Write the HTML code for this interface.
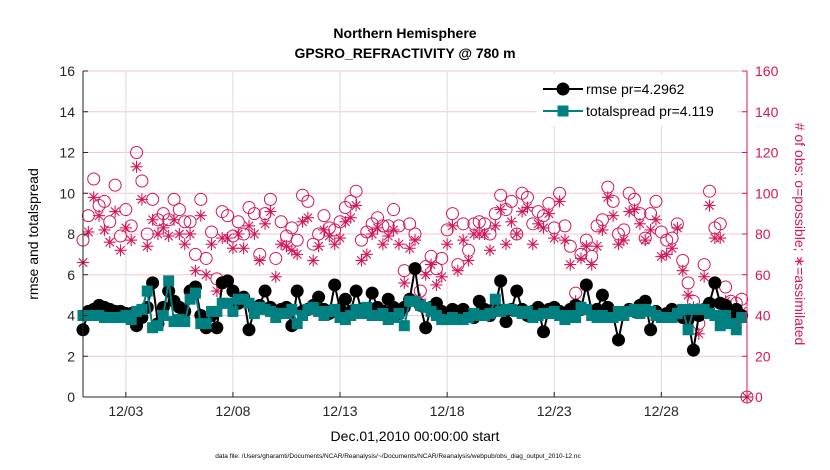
<!DOCTYPE html>
<html><head><meta charset="utf-8"><style>
body{margin:0;background:#fff;}
svg{display:block;font-family:"Liberation Sans",Arial,sans-serif;}
</style></head><body>
<svg id="chart" width="830" height="470" viewBox="0 0 830 470" xmlns="http://www.w3.org/2000/svg">
<g id="grid"></g>
<g id="series"></g>
<g id="axes"></g>
<text x="405" y="38" text-anchor="middle" font-size="14" font-weight="bold">Northern Hemisphere</text>
<text x="405" y="58" text-anchor="middle" font-size="14" font-weight="bold">GPSRO_REFRACTIVITY @ 780 m</text>
<text x="415" y="441" text-anchor="middle" font-size="14">Dec.01,2010 00:00:00 start</text>
<text transform="translate(38,234) rotate(-90)" text-anchor="middle" font-size="14">rmse and totalspread</text>
<text transform="translate(795,234) rotate(90)" text-anchor="middle" font-size="14" fill="#d6145a"># of obs: o=possible; ∗=assimilated</text>
<text x="398" y="458" text-anchor="middle" font-size="6.5">data file: /Users/gharamti/Documents/NCAR/Reanalysis/~/Documents/NCAR/Reanalysis/webpub/obs_diag_output_2010-12.nc</text>
<g id="legend"></g>
</svg>
<script>
const rmse = [3.3,4.2,4.3,4.5,4.4,4.3,4.2,4.2,4.1,4.1,
3.5,3.9,4.4,5.6,3.6,4.4,5.2,4.7,4.4,4.2,
5.2,5.4,4.0,3.4,4.0,3.4,5.6,5.7,5.2,4.6,
4.9,3.3,4.3,4.5,5.2,4.4,4.2,4.3,4.4,3.5,
5.2,4.2,4.3,4.5,4.9,4.3,4.1,5.5,4.3,4.8,
4.2,5.2,4.3,4.2,5.1,4.4,4.2,4.8,4.4,4.1,
4.4,4.8,6.3,4.5,3.4,4.4,4.6,4.2,4.1,4.3,
4.2,4.3,4.0,3.9,4.7,4.3,4.0,4.4,5.7,3.7,
4.3,5.2,4.3,4.0,4.2,4.4,3.2,4.3,4.4,4.2,
4.1,4.3,4.5,4.3,5.5,4.2,4.3,5.0,4.4,4.0,
2.8,4.1,4.3,4.2,4.5,4.7,3.3,4.2,4.0,4.1,
4.3,4.1,3.9,3.8,2.3,4.0,4.3,4.6,5.6,4.6,
4.5,3.9,4.3,4.0];
const spread = [4.0,4.0,4.0,4.0,3.9,3.9,3.9,3.9,4.0,3.8,
4.2,4.3,5.2,3.4,3.5,4.0,5.7,3.7,3.8,3.7,
4.8,5.1,3.6,3.6,4.2,4.2,4.6,4.6,4.2,4.8,
4.8,4.6,4.1,4.4,4.3,4.2,3.9,4.1,4.1,4.3,
3.6,4.0,4.3,4.4,4.2,4.0,4.2,4.3,3.9,3.8,
4.0,4.3,4.1,4.4,4.0,4.0,4.1,3.8,3.9,4.1,
3.5,4.7,4.7,4.5,4.4,4.2,4.0,3.8,3.8,3.9,
3.8,3.8,3.9,4.1,4.0,4.0,4.1,4.8,4.2,4.3,
4.3,4.2,4.1,4.2,3.9,4.0,4.1,4.1,4.2,4.0,
3.8,4.0,3.9,4.4,4.3,4.0,3.9,4.0,3.9,3.9,
4.2,4.0,4.2,4.3,4.1,4.3,4.2,4.0,3.9,3.9,
3.9,4.1,4.3,3.3,4.3,4.3,4.3,4.1,4.0,3.5,
4.0,3.6,3.3,3.9];
const obsPossible = [77,89,107,94,96,86,104,79,92,84,120,106,80,97,87,90,87,97,92,86,86,70,97,68,81,58,91,89,79,86,80,93,90,70,90,97,68,86,79,
83,77,99,96,75,80,89,83,82,86,93,96,101,77,81,85,88,84,84,92,84,62,85,80,52,64,69,63,68,82,90,65,85,72,85,86,85,80,90,
99,92,96,80,100,98,85,91,89,95,83,100,84,74,51,70,77,69,84,87,103,96,80,82,100,97,90,78,90,96,81,77,78,85,67,56,47,36,65,101,83,85,54,47,46,48,0];
const obsAssim = [66,81,98,89,82,76,91,72,83,77,113,97,74,87,80,83,79,87,80,75,80,62,89,60,75,52,78,78,73,80,73,84,80,67,85,91,59,75,74,
72,70,86,88,67,74,82,79,75,78,86,88,94,67,70,80,83,75,79,82,75,56,73,77,48,60,65,55,59,75,84,62,77,67,80,80,80,72,84,
92,75,86,80,91,93,75,85,83,90,78,96,77,65,47,68,74,65,74,82,98,89,75,77,91,92,85,77,82,87,69,70,73,83,62,50,44,31,59,94,78,78,47,44,36,42,0];
const yTicks = [0,2,4,6,8,10,12,14,16];
const y2Ticks = [0,20,40,60,80,100,120,140,160];
const xTickDays = [2,7,12,17,22,27];
const xTickLabels = ["12/03","12/08","12/13","12/18","12/23","12/28"];

const NS="http://www.w3.org/2000/svg";
const L=83,R=747,T=71,B=397;
const xs = d => L + d*(R-L)/31;
const ys = v => B - v*(B-T)/16;
const ys2 = v => B - v*(B-T)/160;
const PINK="#d6145a", TEAL="#008080";
function mk(parent,tag,attrs){const e=document.createElementNS(NS,tag);for(const k in attrs)e.setAttribute(k,attrs[k]);parent.appendChild(e);return e;}
const grid=document.getElementById('grid'), axes=document.getElementById('axes'), ser=document.getElementById('series'), leg=document.getElementById('legend');

yTicks.forEach((t,i)=>{
  const g=mk(grid,'line',{x1:L,x2:R,y1:ys(t),y2:ys(t),stroke:'#f3c6d6','stroke-width':1});
  
  
  const lb=mk(axes,'text',{x:L-8,y:ys(t)+5,'text-anchor':'end','font-size':14,fill:'#262626'});
  lb.textContent=t;
  
  
  mk(axes,'line',{x1:L,x2:L+5,y1:ys(t),y2:ys(t),stroke:'#262626'});
});
y2Ticks.forEach(t=>{
  const lb=mk(axes,'text',{x:R+8,y:ys2(t)+5,'font-size':14,fill:PINK});
  lb.textContent=t;
  
  
  mk(axes,'line',{x1:R-5,x2:R,y1:ys2(t),y2:ys2(t),stroke:PINK});
});
xTickDays.forEach((d,i)=>{
  const g=mk(grid,'line',{x1:xs(d),x2:xs(d),y1:T,y2:B,stroke:'#dcdcdc'});
  
  
  mk(axes,'line',{x1:xs(d),x2:xs(d),y1:B,y2:B-5,stroke:'#262626'});
  const lb=mk(axes,'text',{x:xs(d),y:B+19,'text-anchor':'middle','font-size':14,fill:'#262626'});
  lb.textContent=xTickLabels[i];
  
  
});
const ax1=mk(axes,'line',{x1:L,x2:L,y1:T,y2:B,stroke:'#262626'});


const ax2=mk(axes,'line',{x1:L,x2:R,y1:B,y2:B,stroke:'#262626'});


const ax3=mk(axes,'line',{x1:R,x2:R,y1:T,y2:B,stroke:PINK});



function star(p,x,y,r,c){
  const g=mk(p,'g',{stroke:c,'stroke-width':1.1});
  [[r,0],[0,r],[r*0.7,r*0.7],[r*0.7,-r*0.7]].forEach(([dx,dy])=>mk(g,'line',{x1:x-dx,y1:y-dy,x2:x+dx,y2:y+dy}));
  return g;
}
obsPossible.forEach((v,i)=>{
  const c=mk(ser,'circle',{cx:xs(i/4),cy:ys2(v),r:6,fill:'none',stroke:PINK,'stroke-width':1});
  
  
});
obsAssim.forEach((v,i)=>{
  const s=star(ser,xs(i/4),ys2(v),6,PINK);
  
  
});
const rl=mk(ser,'polyline',{points:rmse.map((v,i)=>xs(i/4)+','+ys(v)).join(' '),fill:'none',stroke:'#000','stroke-width':2});


rmse.forEach((v,i)=>{
  const c=mk(ser,'circle',{cx:xs(i/4),cy:ys(v),r:6.5,fill:'#000'});
  
  
});
const sl=mk(ser,'polyline',{points:spread.map((v,i)=>xs(i/4)+','+ys(v)).join(' '),fill:'none',stroke:TEAL,'stroke-width':2});


spread.forEach((v,i)=>{
  const r=mk(ser,'rect',{x:xs(i/4)-5.5,y:ys(v)-5.5,width:11,height:11,fill:TEAL});
  
  
});
const lb=mk(leg,'rect',{x:537,y:75,width:200,height:50,fill:'#fff',stroke:'#fff'});
mk(leg,'line',{x1:543,x2:583,y1:89,y2:89,stroke:'#000','stroke-width':2});
mk(leg,'circle',{cx:563,cy:89,r:6.5,fill:'#000'});
const t1=mk(leg,'text',{x:586,y:94,'font-size':14});t1.textContent='rmse pr=4.2962';


mk(leg,'line',{x1:543,x2:583,y1:111,y2:111,stroke:TEAL,'stroke-width':2});
mk(leg,'rect',{x:557.5,y:105.5,width:11,height:11,fill:TEAL});
const t2=mk(leg,'text',{x:586,y:116,'font-size':14});t2.textContent='totalspread pr=4.119';


</script>
</body></html>
